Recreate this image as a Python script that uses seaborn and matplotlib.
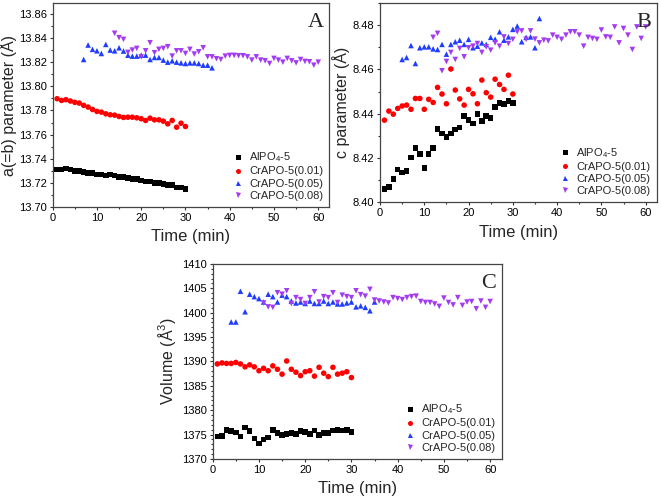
import matplotlib
matplotlib.use("Agg")
import matplotlib.pyplot as plt
from matplotlib.ticker import MultipleLocator
import pandas as pd
import seaborn as sns

# lattice parameters of AlPO4-5 / CrAPO-5 vs time, three panels A, B, C
sns.set_style("ticks")
plt.rcParams["font.family"] = ["Liberation Sans", "DejaVu Sans"]
plt.rcParams["mathtext.fontset"] = "custom"
plt.rcParams["mathtext.rm"] = "Liberation Sans"
plt.rcParams["mathtext.it"] = "Liberation Sans:italic"

samples = ["AlPO$_4$-5", "CrAPO-5(0.01)", "CrAPO-5(0.05)", "CrAPO-5(0.08)"]
colors = ["#000000", "#ff0000", "#1f3dff", "#a33cf0"]
markers = ["s", "o", "^", "v"]

# time axes (min)
t_alpo = list(range(1, 31))
t_cr01 = list(range(1, 31))
t_cr05_a = list(range(7, 37))
t_cr08_a = list(range(14, 61))
t_cr05_b = list(range(5, 37))
t_cr08_b = list(range(12, 61))
t_cr05_c = list(range(4, 36))
t_cr08_c = list(range(11, 61))

# panel A: a(=b) parameter
a_alpo = [13.731, 13.731, 13.732, 13.731, 13.730, 13.730, 13.729, 13.728, 13.728, 13.727,
          13.727, 13.726, 13.727, 13.726, 13.725, 13.725, 13.724, 13.723, 13.723, 13.722,
          13.721, 13.721, 13.720, 13.720, 13.719, 13.718, 13.718, 13.716, 13.716, 13.715]
a_cr01 = [13.7897, 13.7883, 13.7889, 13.7878, 13.7867, 13.7861, 13.7842, 13.7828, 13.7808, 13.7792,
          13.7786, 13.7772, 13.7764, 13.7761, 13.7750, 13.7742, 13.7744, 13.7744, 13.7739, 13.7731,
          13.7717, 13.7736, 13.7722, 13.7722, 13.7711, 13.7689, 13.7717, 13.7661, 13.7694, 13.7667]
a_cr05 = [13.8222, 13.8342, 13.8306, 13.8294, 13.8272, 13.8347, 13.8300, 13.8294, 13.8319, 13.8292,
          13.8258, 13.8250, 13.8250, 13.8258, 13.8258, 13.8222, 13.8239, 13.8239, 13.8217, 13.8200,
          13.8211, 13.8200, 13.8194, 13.8189, 13.8194, 13.8194, 13.8189, 13.8175, 13.8175, 13.8153]
a_cr08 = [13.8439, 13.8403, 13.8389, 13.8281, 13.8300, 13.8314, 13.8244, 13.8294, 13.8361, 13.8278,
          13.8306, 13.8314, 13.8328, 13.8250, 13.8294, 13.8294, 13.8272, 13.8306, 13.8267, 13.8286,
          13.8319, 13.8244, 13.8244, 13.8228, 13.8222, 13.8250, 13.8256, 13.8256, 13.8253, 13.8253,
          13.8244, 13.8217, 13.8244, 13.8217, 13.8211, 13.8189, 13.8231, 13.8217, 13.8200, 13.8231,
          13.8211, 13.8194, 13.8222, 13.8206, 13.8203, 13.8175, 13.8200]

# panel B: c parameter
c_alpo = [8.4059, 8.4070, 8.4104, 8.4149, 8.4135, 8.4141, 8.4203, 8.4245, 8.4217, 8.4156,
          8.4218, 8.4245, 8.4331, 8.4310, 8.4295, 8.4311, 8.4328, 8.4338, 8.4389, 8.4371,
          8.4355, 8.4398, 8.4367, 8.4391, 8.4380, 8.4431, 8.4449, 8.4444, 8.4458, 8.4449]
c_cr01 = [8.4371, 8.4412, 8.4398, 8.4424, 8.4435, 8.4439, 8.4420, 8.4469, 8.4469, 8.4420,
          8.4465, 8.4451, 8.4519, 8.4489, 8.4445, 8.4602, 8.4507, 8.4467, 8.4439, 8.4510,
          8.4490, 8.4445, 8.4552, 8.4495, 8.4475, 8.4556, 8.4532, 8.4510, 8.4574, 8.4489]
c_cr05 = [8.4645, 8.4654, 8.4708, 8.4627, 8.4698, 8.4702, 8.4702, 8.4693, 8.4690, 8.4713,
          8.4669, 8.4713, 8.4725, 8.4732, 8.4713, 8.4736, 8.4698, 8.4705, 8.4720, 8.4713,
          8.4745, 8.4737, 8.4770, 8.4732, 8.4747, 8.4781, 8.4796, 8.4725, 8.4745, 8.4747,
          8.4698, 8.4830]
c_cr08 = [8.4745, 8.4763, 8.4594, 8.4636, 8.4677, 8.4645, 8.4695, 8.4657, 8.4698, 8.4705,
          8.4717, 8.4677, 8.4702, 8.4687, 8.4720, 8.4705, 8.4747, 8.4717, 8.4736, 8.4770,
          8.4774, 8.4736, 8.4774, 8.4737, 8.4720, 8.4732, 8.4729, 8.4755, 8.4745, 8.4736,
          8.4755, 8.4770, 8.4770, 8.4755, 8.4705, 8.4745, 8.4740, 8.4736, 8.4778, 8.4747,
          8.4745, 8.4792, 8.4720, 8.4785, 8.4755, 8.4690, 8.4792, 8.4740, 8.4792]

# panel C: cell volume
v_alpo = [1374.6, 1374.7, 1375.9, 1375.7, 1375.4, 1374.6, 1376.5, 1375.7, 1374.2, 1373.2,
          1374.0, 1374.4, 1375.9, 1375.3, 1374.9, 1375.1, 1375.3, 1375.1, 1375.7, 1375.5,
          1375.1, 1375.8, 1374.9, 1375.3, 1375.3, 1375.8, 1376.0, 1375.8, 1375.9, 1375.5]
v_cr01 = [1389.5, 1389.7, 1389.6, 1389.6, 1389.8, 1389.5, 1388.9, 1389.3, 1388.9, 1388.1,
          1388.6, 1388.1, 1389.1, 1388.4, 1387.4, 1390.1, 1388.4, 1387.8, 1387.1, 1387.9,
          1388.1, 1387.0, 1388.8, 1387.6, 1386.9, 1388.8, 1387.4, 1387.6, 1387.9, 1386.7]
v_cr05 = [1398.1, 1398.1, 1404.4, 1400.2, 1403.8, 1403.3, 1402.9, 1402.2, 1403.8, 1403.3,
          1402.2, 1403.6, 1403.3, 1402.4, 1402.0, 1402.2, 1401.9, 1402.4, 1401.9, 1401.9,
          1402.4, 1401.9, 1402.2, 1401.8, 1401.8, 1402.0, 1402.2, 1401.2, 1401.4, 1401.1,
          1400.4, 1402.2]
v_cr08 = [1402.0, 1401.2, 1401.1, 1404.1, 1403.8, 1404.5, 1401.9, 1403.1, 1402.7, 1401.9,
          1403.1, 1404.3, 1402.2, 1403.3, 1403.1, 1404.1, 1402.1, 1403.6, 1403.3, 1403.1,
          1404.5, 1403.7, 1403.4, 1404.8, 1402.6, 1402.4, 1402.2, 1402.0, 1403.1, 1402.9,
          1402.7, 1403.1, 1403.3, 1403.4,
          1402.3, 1402.1, 1402.1, 1401.8, 1401.3, 1403.0, 1402.1, 1401.6, 1403.1, 1401.5,
          1402.2, 1402.3, 1400.8, 1402.4, 1401.1, 1402.3]


def long_table(times, values):
    frames = []
    for name, t, v in zip(samples, times, values):
        frames.append(pd.DataFrame({"Time": t, "value": v, "sample": name}))
    return pd.concat(frames, ignore_index=True)


def draw_panel(ax, df, ylabel, ylim, ymajor, yminor, fmt, letter, label_x):
    sns.scatterplot(data=df, x="Time", y="value", hue="sample", style="sample",
                    hue_order=samples, style_order=samples,
                    palette=dict(zip(samples, colors)), markers=dict(zip(samples, markers)),
                    s=16, linewidth=0, ax=ax)
    ax.set_xlim(0, 62.5)
    ax.set_ylim(*ylim)
    ax.xaxis.set_major_locator(MultipleLocator(10))
    ax.xaxis.set_minor_locator(MultipleLocator(5))
    ax.yaxis.set_major_locator(MultipleLocator(ymajor))
    ax.yaxis.set_minor_locator(MultipleLocator(yminor))
    ax.yaxis.set_major_formatter(fmt)
    ax.tick_params(which="both", direction="out", labelsize=8, width=0.8,
                   colors="#333333", pad=1.5)
    ax.tick_params(which="major", length=2.5)
    ax.tick_params(which="minor", length=1.5)
    for sp in ax.spines.values():
        sp.set_color("#444444")
        sp.set_linewidth(0.9)
    ax.tick_params(labelcolor="black")
    ax.set_xlabel("Time (min)", fontsize=12, labelpad=5)
    ax.set_ylabel(ylabel, fontsize=11.5)
    ax.yaxis.set_label_coords(label_x, 0.5)
    ax.legend(loc="lower right", frameon=False, fontsize=8, handlelength=1.0,
              handletextpad=0.5, labelspacing=0.2, borderaxespad=0.15, markerscale=0.9)
    ax.text(0.98, 0.95, letter, transform=ax.transAxes, ha="right", va="top",
            fontsize=16, family="Liberation Serif")


fig = plt.figure(figsize=(6.61, 5.03), dpi=100)
ax_a = fig.add_axes([0.0797, 0.5885, 0.4185, 0.4055])
ax_b = fig.add_axes([0.5749, 0.5978, 0.4186, 0.3962])
ax_c = fig.add_axes([0.3218, 0.0875, 0.4372, 0.3877])

df_a = long_table([t_alpo, t_cr01, t_cr05_a, t_cr08_a], [a_alpo, a_cr01, a_cr05, a_cr08])
df_b = long_table([t_alpo, t_cr01, t_cr05_b, t_cr08_b], [c_alpo, c_cr01, c_cr05, c_cr08])
df_c = long_table([t_alpo, t_cr01, t_cr05_c, t_cr08_c], [v_alpo, v_cr01, v_cr05, v_cr08])

draw_panel(ax_a, df_a, "a(=b) parameter (Å)", (13.70, 13.869), 0.02, 0.01, "{x:.2f}", "A", -0.13)
draw_panel(ax_b, df_b, "c parameter (Å)", (8.40, 8.49), 0.02, 0.01, "{x:.2f}", "B", -0.11)
draw_panel(ax_c, df_c, "Volume (Å$^3$)", (1370, 1410), 5, 1, "{x:.0f}", "C", -0.12)

fig.savefig("out.png", dpi=100)
